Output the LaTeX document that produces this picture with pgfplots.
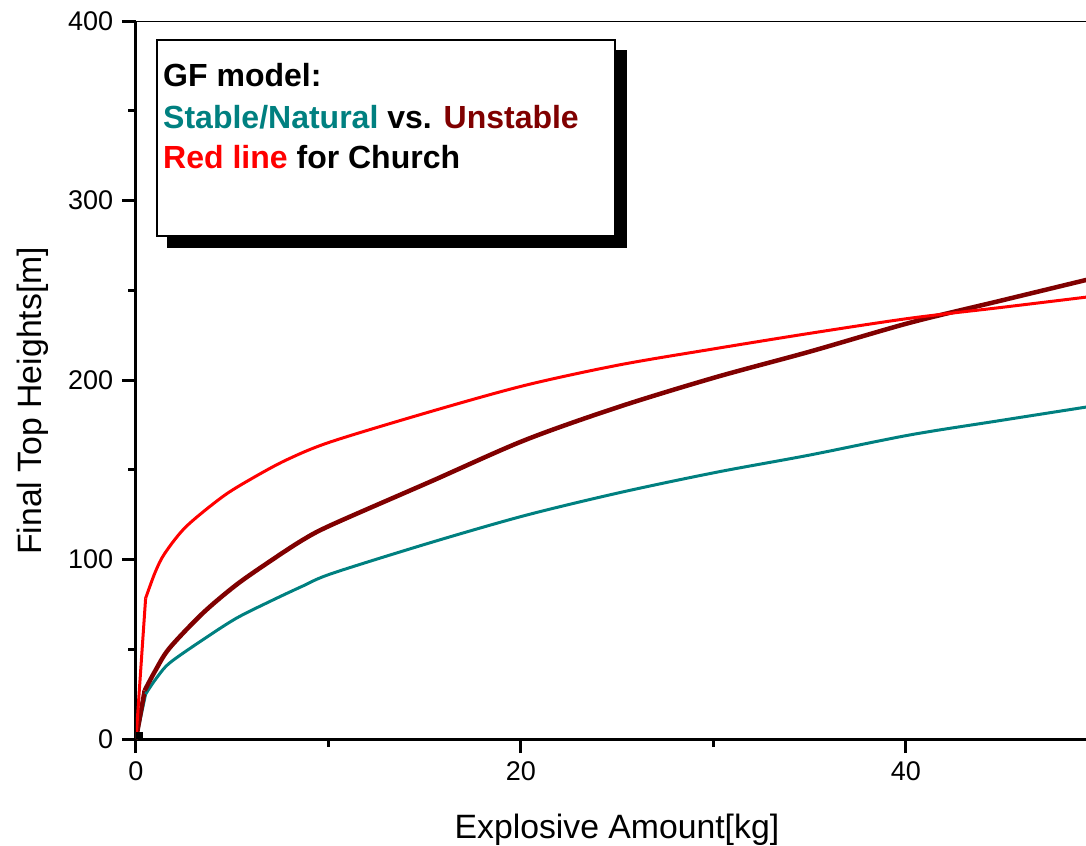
\documentclass[border=0pt]{standalone}
\usepackage{pgfplots}
\pgfplotsset{compat=1.18}
\usepackage{fontspec}
\setmainfont{Liberation Sans}
\definecolor{stabteal}{RGB}{0,128,128}
\definecolor{unstred}{RGB}{128,0,0}
\definecolor{church}{RGB}{255,0,0}

% Final top heights [m] against explosive amount [kg]
\pgfplotstableread{
x y
0.5 78.4
1 93
1.5 103.5
2.6 118.3
4.5 135
6 145
7.8 155.4
10.1 165.5
15.3 182.4
20.2 197
25.1 208.4
30.1 217.5
35 226
40.2 234.4
45 240.5
50 247
}\churchdata
\pgfplotstableread{
x y
0.45 27
1 38
1.73 50.5
3.46 70
5.2 85.8
6.93 98.8
8.66 110.9
10.2 119.5
15.3 143.4
20.2 166.5
25.1 185.1
30.1 201.5
35 215.8
40.2 231.9
45 244.4
50 257.4
}\unstabledata
\pgfplotstableread{
x y
0.5 25
1 33
1.73 42.2
3.46 55.2
5.2 67.2
6.93 76.5
8.66 85.2
10.2 92.3
15.3 109.4
20.2 124.5
25.1 137.2
30.1 148.5
35 158.2
40.2 169.4
45 177.6
50 186
}\stabledata

\begin{document}
\begin{tikzpicture}
\useasboundingbox (-54.4pt,-42.4pt) rectangle (380pt,295.6pt);
\clip (-54.4pt,-42.4pt) rectangle (380pt,295.6pt);
\begin{axis}[
  scale only axis, width=385pt, height=287.2pt,
  xmin=0, xmax=50, ymin=0, ymax=400,
  axis x line*=bottom, axis y line*=left,
  axis line style={line width=1.2pt, -},
  xtick={0,20,40}, minor xtick={10,30},
  ytick={0,100,200,300,400}, minor ytick={50,150,250,350},
  tick align=outside,
  major tick length=5.6pt, minor tick length=3pt,
  every tick/.style={black, line width=1.2pt},
  tick label style={font=\fontsize{10.8}{13}\selectfont},
  /pgf/number format/assume math mode=true,
  xlabel={Explosive Amount[kg]},
  ylabel={Final Top Heights[m]},
  label style={font=\fontsize{13.5}{16}\selectfont},
  xlabel style={at={(axis description cs:0.4997,-0.1379)}, anchor=base},
  ylabel style={at={(axis description cs:-0.0977,0.471)}, anchor=base},
]
% thin top frame line
\draw[line width=0.5pt] (rel axis cs:0,1) -- (rel axis cs:1,1);

% steep first segments from the origin
\addplot[stabteal, line width=1.2pt] coordinates {(0,0) (0.5,25)};
\addplot[unstred, line width=1.8pt] coordinates {(0,0) (0.45,27)};
\addplot[church, line width=1.2pt] coordinates {(0,0) (0.5,78.4)};

\addplot[stabteal, line width=1.2pt, smooth] table[x=x, y=y] {\stabledata};
\addplot[unstred, line width=1.8pt, smooth] table[x=x, y=y] {\unstabledata};
\addplot[church, line width=1.2pt, smooth] table[x=x, y=y] {\churchdata};
\addplot[only marks, mark=square*, mark size=1.2pt, black] coordinates {(0.2,1.7)};

% annotation box with drop shadow
\fill[black] ([xshift=12.4pt, yshift=-11.6pt]rel axis cs:0,1) rectangle ++(184pt,-79.2pt);
\draw[fill=white, line width=0.5pt] ([xshift=8.4pt, yshift=-7.6pt]rel axis cs:0,1) rectangle ++(183.2pt,-78.4pt);
\node[anchor=base west, inner sep=0, font=\bfseries\fontsize{12.8}{15}\selectfont]
  at ([xshift=10.7pt, yshift=-26.3pt]rel axis cs:0,1) {GF model:};
\node[anchor=base west, inner sep=0, font=\bfseries\fontsize{12.8}{15}\selectfont]
  at ([xshift=10.7pt, yshift=-42.8pt]rel axis cs:0,1)
  {\textcolor{stabteal}{Stable/Natural} vs. \textcolor{unstred}{Unstable}};
\node[anchor=base west, inner sep=0, font=\bfseries\fontsize{12.8}{15}\selectfont]
  at ([xshift=10.7pt, yshift=-58.8pt]rel axis cs:0,1)
  {\textcolor{church}{Red line} for Church};
\end{axis}
\end{tikzpicture}
\end{document}
